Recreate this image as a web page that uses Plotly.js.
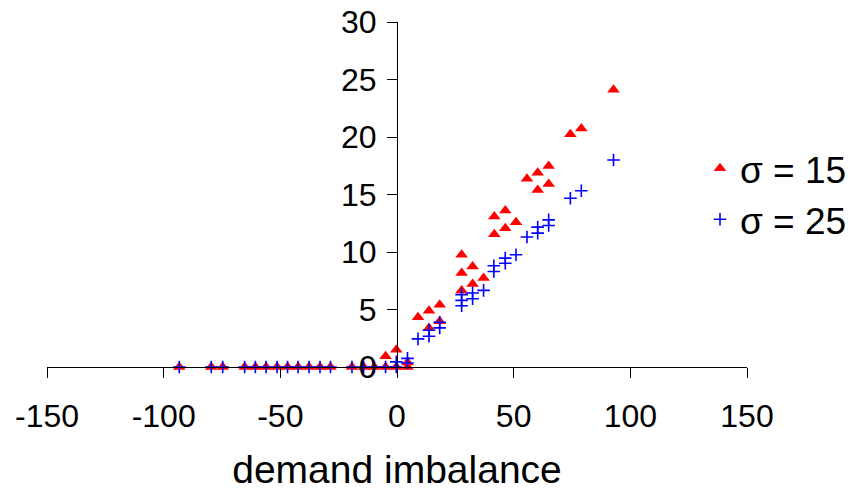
<!DOCTYPE html>
<html>
<head>
<meta charset="utf-8">
<script src="https://cdn.plot.ly/plotly-3.0.1.min.js"></script>
<style>html,body{margin:0;padding:0;background:#fff;}#chart{width:851px;height:491px;}</style>
</head>
<body>
<div id="chart"></div>
<script>
// sigma = 15 series (red triangles)
const sigma15X = [-93.3, -79.6, -74.7, -65.3, -60.7, -56.1, -51.4, -46.9, -42.4, -37.7, -33.0, -28.5, -19.3, -14.3, -9.7, -4.9, -4.9, -0.3, -0.3, 4.5, 4.5,
  9.0, 13.7, 13.7, 18.3, 18.3, 27.7, 27.7, 27.7, 32.4, 32.4, 37.1, 41.7, 41.7, 46.4, 46.4, 51.0, 55.7, 60.3, 60.3, 65.0, 65.0, 74.3, 79.0, 92.8];
const sigma15Y = [0, 0, 0, 0, 0, 0, 0, 0, 0, 0, 0, 0, 0, 0, 0, 0, 0.94, 0, 1.5, 0, 0.4,
  4.32, 4.9, 3.4, 5.42, 3.97, 9.76, 8.17, 6.66, 8.74, 7.21, 7.73, 13.08, 11.55, 13.6, 12.07, 12.59, 16.37, 16.9, 15.39, 17.48, 15.91, 20.25, 20.74, 24.1];

// sigma = 25 series (blue crosses)
const sigma25X = [-93.3, -79.6, -74.7, -65.3, -60.7, -56.1, -51.4, -46.9, -42.4, -37.7, -33.0, -28.5, -19.3, -14.3, -9.7, -4.9, -0.3, -0.3, 4.5, 4.5,
  9.0, 13.7, 13.7, 18.3, 18.3, 27.7, 27.7, 27.7, 32.4, 32.4, 37.1, 41.5, 41.5, 46.4, 46.4, 51.0, 55.7, 60.3, 60.3, 65.0, 65.0, 74.3, 79.0, 92.8];
const sigma25Y = [0, 0, 0, 0, 0, 0, 0, 0, 0, 0, 0, 0, 0, 0, 0, 0, 0, 0.45, 0.75, 0.35,
  2.45, 3.19, 2.67, 3.89, 3.4, 6.29, 5.79, 5.33, 6.43, 5.94, 6.66, 8.8, 8.3, 9.47, 9.02, 9.76, 11.3, 12.16, 11.64, 12.79, 12.3, 14.67, 15.33, 18.0];

const seriesNames = ['σ = 15', 'σ = 25'];
const xTicks = [-150, -100, -50, 0, 50, 100, 150];
const yTicks = [0, 5, 10, 15, 20, 25, 30];
const xTitle = 'demand imbalance';

const font = 'Arial, "Liberation Sans", sans-serif';

const traces = [
  {
    x: sigma15X, y: sigma15Y, name: seriesNames[0], type: 'scatter', mode: 'markers',
    cliponaxis: false,
    marker: {symbol: 'triangle-up', size: 11, color: '#ff0000'}
  },
  {
    x: sigma25X, y: sigma25Y, name: seriesNames[1], type: 'scatter', mode: 'markers',
    cliponaxis: false,
    marker: {symbol: 'cross-thin', size: 9, color: '#0000ff', line: {color: '#0000ff', width: 1.6}}
  }
];

const layout = {
  width: 851, height: 491,
  margin: {l: 46.7, r: 104.3, t: 21.5, b: 123.5, pad: 0, autoexpand: false},
  paper_bgcolor: '#fff', plot_bgcolor: '#fff',
  font: {family: font, color: '#000'},
  showlegend: true,
  legend: {
    x: 1.15, xanchor: 'right', y: 0.665, yanchor: 'top',
    font: {family: font, size: 37, color: '#000'},
    bgcolor: 'rgba(0,0,0,0)', borderwidth: 0, tracegroupgap: 0
  },
  xaxis: {
    range: [-150, 150], tickmode: 'array', tickvals: xTicks, ticktext: xTicks.map(String),
    showgrid: false, zeroline: false, showline: true, linecolor: '#000', linewidth: 1,
    ticks: 'outside', ticklen: 10, tickcolor: '#000', tickwidth: 1,
    tickfont: {family: font, size: 32, color: '#000'},
    ticklabelstandoff: 11,
    title: {text: xTitle, font: {family: font, size: 39, color: '#000'}, standoff: 34},
    automargin: false, fixedrange: true
  },
  yaxis: {
    range: [0, 30], tickmode: 'array', tickvals: yTicks, ticktext: yTicks.map(String),
    anchor: 'free', position: 0.5, side: 'left',
    showgrid: false, zeroline: false, showline: true, linecolor: '#000', linewidth: 1,
    ticks: 'outside', ticklen: 10, tickcolor: '#000', tickwidth: 1,
    tickfont: {family: font, size: 32, color: '#000'},
    ticklabelstandoff: 4,
    automargin: false, fixedrange: true
  }
};

Plotly.newPlot('chart', traces, layout, {displayModeBar: false, staticPlot: true});
</script>
</body>
</html>
